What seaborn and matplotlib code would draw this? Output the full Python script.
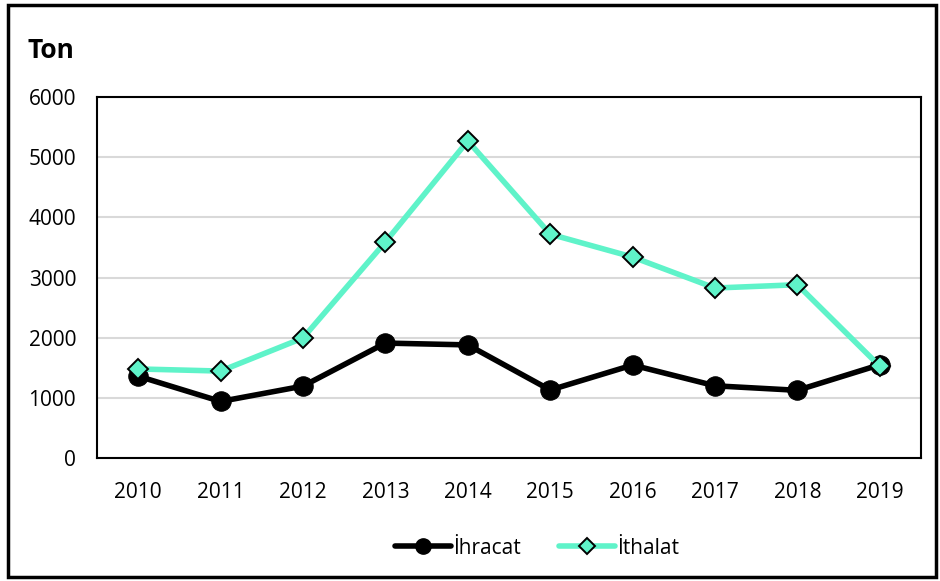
import matplotlib
matplotlib.use("Agg")
import matplotlib.pyplot as plt
import seaborn as sns
import pandas as pd
from matplotlib.patches import Rectangle
from matplotlib.lines import Line2D

years = ["2010", "2011", "2012", "2013", "2014", "2015", "2016", "2017", "2018", "2019"]
ihracat = [1360, 940, 1195, 1910, 1880, 1130, 1545, 1200, 1125, 1550]
ithalat = [1480, 1445, 1995, 3590, 5270, 3720, 3340, 2825, 2880, 1525]
series_names = ["İhracat", "İthalat"]
yticks = [0, 1000, 2000, 3000, 4000, 5000, 6000]

df = pd.DataFrame({
    "x": list(range(len(years))) * 2,
    "val": ihracat + ithalat,
    "seri": [series_names[0]] * len(years) + [series_names[1]] * len(years),
})

sns.set_style("white")
plt.rcParams["font.family"] = ["Open Sans", "DejaVu Sans"]
plt.rcParams["text.color"] = "black"

fig = plt.figure(figsize=(9.4, 5.81), dpi=100)
ax = fig.add_axes([97 / 940, 123 / 581, 824 / 940, 361 / 581])

green = "#5FF3C9"
sns.lineplot(data=df, x="x", y="val", hue="seri", style="seri",
             palette={series_names[0]: "black", series_names[1]: green},
             markers={series_names[0]: "o", series_names[1]: "D"},
             dashes=False, ax=ax, linewidth=4, legend=False)

lines = ax.get_lines()
lines[0].set_markersize(14)
lines[0].set_markerfacecolor("black")
lines[0].set_markeredgecolor("black")
lines[0].set_zorder(3)
lines[1].set_markersize(10)
lines[1].set_markerfacecolor(green)
lines[1].set_markeredgecolor("black")
lines[1].set_markeredgewidth(1.4)
lines[1].set_zorder(4)

ax.set_xlim(-0.5, len(years) - 0.5)
ax.set_ylim(0, 6000)
ax.set_xticks(range(len(years)))
ax.set_xticklabels(years)
ax.set_yticks(yticks)
ax.set_yticklabels([str(v) for v in yticks])
ax.tick_params(axis="both", length=0, labelsize=15, colors="black")
ax.tick_params(axis="x", pad=17)
ax.tick_params(axis="y", pad=15)
ax.set_xlabel("")
ax.set_ylabel("")
ax.grid(axis="y", color="#D9D9D9", linewidth=1.5)
ax.set_axisbelow(True)
for s in ax.spines.values():
    s.set_color("black")
    s.set_linewidth(1.5)

fig.text(27 / 940, 1 - 50 / 581, "Ton", fontsize=19, fontweight="bold", va="center", ha="left",
         color="black")

handles = [
    Line2D([], [], color="black", lw=4, marker="o", markersize=11, markerfacecolor="black"),
    Line2D([], [], color=green, lw=4, marker="D", markersize=8, markerfacecolor=green,
           markeredgecolor="black", markeredgewidth=1.4),
]
fig.legend(handles, series_names, loc="center", bbox_to_anchor=(537 / 940, 1 - 548 / 581),
           ncol=2, frameon=False, fontsize=15, handlelength=2.7, handletextpad=0.1,
           columnspacing=1.8, labelcolor="black")

fig.patches.append(Rectangle((8 / 940, 4 / 581), 928 / 940, 572 / 581, transform=fig.transFigure,
                             fill=False, edgecolor="black", linewidth=2.5))

fig.savefig("out.png", dpi=100)
